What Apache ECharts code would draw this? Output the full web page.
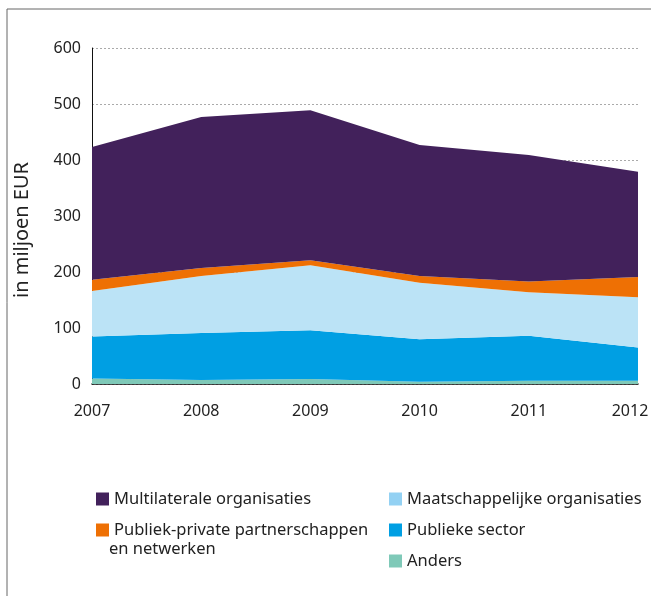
<!DOCTYPE html>
<html>
<head>
<meta charset="utf-8">
<script src="https://cdn.jsdelivr.net/npm/echarts@6/dist/echarts.min.js"></script>
<style>
html, body { margin: 0; padding: 0; background: #fff; }
#chart { width: 651px; height: 596px; }
</style>
</head>
<body>
<div id="chart"></div>
<script>
// jaren en waarden (miljoen EUR)
var years = ['2007', '2008', '2009', '2010', '2011', '2012'];
var anders = [10, 7, 9, 4, 6, 6];
var publiekeSector = [75, 84, 87, 76, 80, 59];
var maatschappelijk = [81, 102, 116, 101, 78, 90];
var ppp = [20, 14, 9, 12, 19, 36];
var multilateraal = [237, 270, 268, 234, 226, 188];
var yTicks = [0, 100, 200, 300, 400, 500, 600];

var font = 'Noto Sans';
var pppNaam = 'Publiek-private partnerschappen en netwerken';
var chart = echarts.init(document.getElementById('chart'));

function area(name, data, color) {
  return {
    name: name,
    type: 'line',
    stack: 'totaal',
    data: data,
    symbol: 'none',
    lineStyle: { width: 0 },
    areaStyle: { color: color, opacity: 1 },
    itemStyle: { color: color },
    emphasis: { disabled: true }
  };
}

var legendText = { fontFamily: font, fontSize: 16.5, color: '#222', lineHeight: 20 };

var option = {
  animation: false,
  textStyle: { fontFamily: font },
  graphic: [
    { type: 'line', shape: { x1: 7, y1: 9, x2: 651, y2: 9 }, style: { stroke: '#666', lineWidth: 1 } },
    { type: 'line', shape: { x1: 7, y1: 9, x2: 7, y2: 596 }, style: { stroke: '#666', lineWidth: 1 } },
    // tweede regel van het PPP-legendalabel
    { type: 'text', left: 109, top: 541, style: { text: 'en netwerken', font: '16.5px "Noto Sans"', fill: '#222' } }
  ],
  grid: { left: 92, right: 13, top: 48, bottom: 212, outerBoundsMode: 'none' },
  legend: [
    {
      left: 91, top: 484, orient: 'vertical', itemGap: 11,
      itemWidth: 13, itemHeight: 13, icon: 'rect',
      textStyle: legendText,
      formatter: function (n) { return n === pppNaam ? 'Publiek-private partnerschappen' : n; },
      data: ['Multilaterale organisaties', pppNaam]
    },
    {
      left: 384, top: 484, orient: 'vertical', itemGap: 11,
      itemWidth: 13, itemHeight: 13, icon: 'rect',
      textStyle: legendText,
      data: [
        { name: 'Maatschappelijke organisaties', itemStyle: { color: '#93d1f3' } },
        'Publieke sector',
        'Anders'
      ]
    }
  ],
  xAxis: {
    type: 'category',
    data: years,
    boundaryGap: false,
    axisLine: { lineStyle: { color: '#111', width: 1.5 } },
    axisTick: { show: false },
    axisLabel: {
      interval: 0, hideOverlap: false,
      fontSize: 16, color: '#222', margin: 19, fontFamily: font,
      formatter: function (v, i) { return i === years.length - 1 ? '{last|' + v + '}' : v; },
      rich: { last: { fontSize: 16, color: '#222', fontFamily: font, padding: [0, 16, 0, 0] } }
    }
  },
  yAxis: {
    type: 'value',
    min: yTicks[0],
    max: yTicks[yTicks.length - 1],
    interval: 100,
    name: 'in miljoen EUR',
    nameLocation: 'middle',
    nameGap: 60,
    nameTextStyle: { fontSize: 20, color: '#222', fontFamily: font, padding: [0, 28, 0, 0] },
    axisLine: { show: true, lineStyle: { color: '#111', width: 1 } },
    axisTick: { show: false },
    axisLabel: { fontSize: 16, color: '#222', margin: 11, fontFamily: font },
    splitLine: { lineStyle: { color: '#aaa', type: [2, 2], width: 1 } }
  },
  series: [
    area('Anders', anders, '#7fc9b8'),
    area('Publieke sector', publiekeSector, '#009fe3'),
    area('Maatschappelijke organisaties', maatschappelijk, '#bbe3f6'),
    area(pppNaam, ppp, '#ee7004'),
    area('Multilaterale organisaties', multilateraal, '#42215b')
  ]
};

chart.setOption(option);
</script>
</body>
</html>
